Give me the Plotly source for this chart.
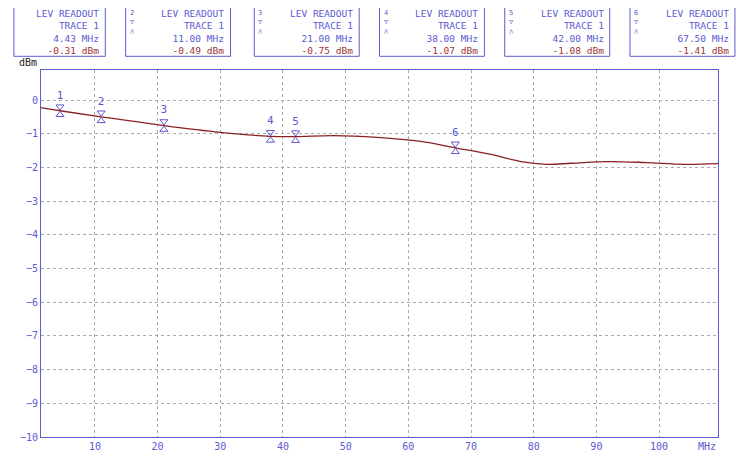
import plotly.graph_objects as go

# trace 1 level readout
freq = [1.4, 4.43, 11, 21, 30, 38, 42, 48, 55, 62, 67.5, 73, 78, 82, 86, 92, 98, 104, 109.4]
level = [-0.22, -0.31, -0.49, -0.75, -0.95, -1.07, -1.08, -1.05, -1.1, -1.22, -1.41, -1.6, -1.82, -1.9, -1.87, -1.82, -1.85, -1.9, -1.88]

mk_num = ["1", "2", "3", "4", "5", "6"]
mk_freq = [4.43, 11.00, 21.00, 38.00, 42.00, 67.50]
mk_lev = [-0.31, -0.49, -0.75, -1.07, -1.08, -1.41]

xticks = [10, 20, 30, 40, 50, 60, 70, 80, 90, 100]
yticks = [0, -1, -2, -3, -4, -5, -6, -7, -8, -9, -10]

blue = "#5a5ad2"
red = "#a03535"
mono = "DejaVu Sans Mono"

fig = go.Figure()
fig.add_trace(go.Scatter(x=freq, y=level, mode="lines", line=dict(color="#8b2020", width=1.3, shape="spline")))
fig.add_trace(go.Scatter(x=mk_freq, y=[v + 0.12 for v in mk_lev], mode="markers+text", text=mk_num,
                         textposition="top center", textfont=dict(family=mono, size=11, color=blue),
                         marker=dict(symbol="triangle-down-open", size=7, color=blue)))
fig.add_trace(go.Scatter(x=mk_freq, y=[v - 0.12 for v in mk_lev], mode="markers",
                         marker=dict(symbol="triangle-up-open", size=7, color=blue)))

# readout boxes (paper coords; plot height 375px, top margin 62px)
box_x = [-0.04, 0.125, 0.315, 0.5, 0.685, 0.87]
box_w = [0.135, 0.155, 0.155, 0.155, 0.155, 0.155]
top = 1 + 62 / 375
bot = 1 + 14 / 375
for i in range(6):
    x0 = box_x[i]
    x1 = x0 + box_w[i]
    fig.add_shape(type="rect", xref="paper", yref="paper", x0=x0, x1=x1, y0=bot, y1=top + 0.01,
                  line=dict(color=blue, width=1))
    if i > 0:
        fig.add_annotation(xref="paper", yref="paper", x=x0 + 0.003, y=top + 0.005, text=mk_num[i] + "<br>▽<br>△",
                           showarrow=False, xanchor="left", yanchor="top",
                           font=dict(family=mono, size=7, color=blue))
    txt = ("LEV READOUT<br>&nbsp;&nbsp;&nbsp;TRACE 1<br>%.2f MHz<br><span style='color:%s'>%.2f dBm</span>"
           % (mk_freq[i], red, mk_lev[i]))
    fig.add_annotation(xref="paper", yref="paper", x=x1 - 0.006, y=top + 0.008, text=txt,
                       showarrow=False, xanchor="right", yanchor="top", align="right",
                       font=dict(family=mono, size=9.5, color=blue))

fig.add_annotation(xref="paper", yref="paper", x=-0.003, y=1.0, text="dBm", showarrow=False,
                   xanchor="right", yanchor="bottom", font=dict(family=mono, size=10, color="#222"))
fig.add_annotation(xref="paper", yref="paper", x=1.0, y=-0.005, text="MHz", showarrow=False,
                   xanchor="right", yanchor="top", font=dict(family=mono, size=10, color=blue))

fig.update_layout(
    width=750, height=456, margin=dict(l=30, r=40, t=62, b=19),
    paper_bgcolor="white", plot_bgcolor="white", showlegend=False,
    xaxis=dict(range=[1.4, 109.4], tickvals=xticks, ticks="", showgrid=True, gridcolor="#aaa",
               griddash="dot", gridwidth=1, zeroline=False, showline=True, linecolor=blue, mirror=True,
               tickfont=dict(family=mono, size=10, color=blue)),
    yaxis=dict(range=[-10, 0.9], tickvals=yticks, ticks="", showgrid=True, gridcolor="#aaa",
               griddash="dot", gridwidth=1, zeroline=False, showline=True, linecolor=blue, mirror=True,
               tickfont=dict(family=mono, size=10, color=blue)),
)
fig.write_html("out.html")
